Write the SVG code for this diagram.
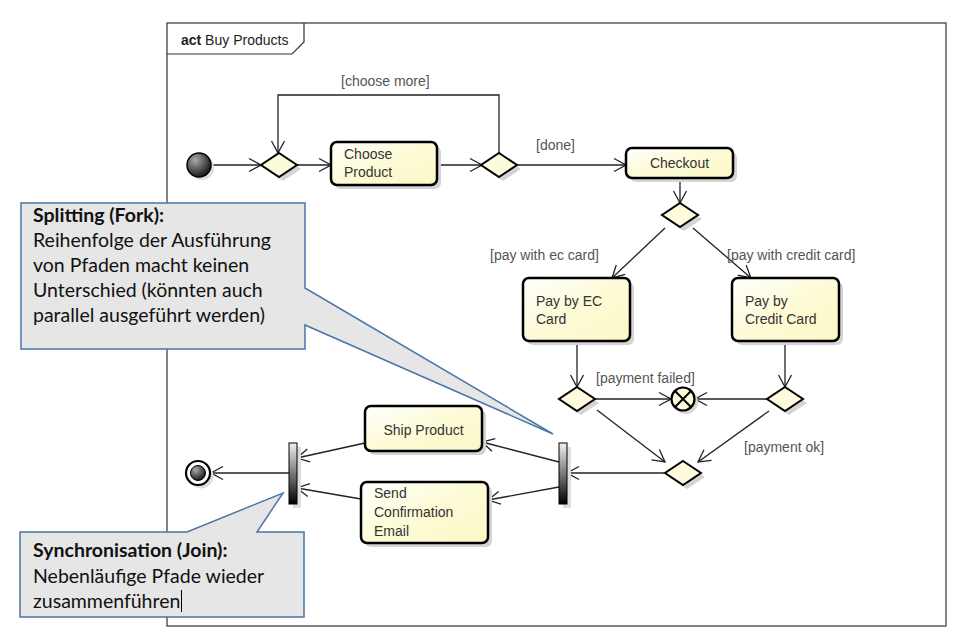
<svg xmlns="http://www.w3.org/2000/svg" width="971" height="643" viewBox="0 0 971 643">
<style>
.lbl{font-family:"Liberation Sans",Arial,sans-serif;font-size:14px;fill:#555}
.txt{font-family:"Liberation Sans",Arial,sans-serif;font-size:14px;fill:#333}
.act{fill:url(#actGrad);stroke:#000;stroke-width:2.5}
.shd{fill:#d4d4d4}
.dia{fill:#fdfbdc;stroke:#000;stroke-width:2}
.con line,.con polyline{stroke:#222;stroke-width:1.3;fill:none;marker-end:url(#arr)}
.note{fill:#e6e6e6;stroke:#4a76a8;stroke-width:1.5}
.nt{font-family:Lato,"Liberation Sans",sans-serif;font-size:19.5px;fill:#111}
.nb{font-weight:bold}
</style>
<defs>
<linearGradient id="actGrad" x1="0" y1="0" x2="1" y2="1">
<stop offset="0" stop-color="#ffffff"/>
<stop offset="0.5" stop-color="#fdfbd6"/>
<stop offset="1" stop-color="#fbf8c6"/>
</linearGradient>
<linearGradient id="barGrad" x1="0" y1="0" x2="0" y2="1">
<stop offset="0" stop-color="#f2f2f2"/>
<stop offset="1" stop-color="#000"/>
</linearGradient>
<radialGradient id="ballGrad" cx="0.35" cy="0.3" r="0.75">
<stop offset="0" stop-color="#aaa"/>
<stop offset="1" stop-color="#111"/>
</radialGradient>
<marker id="arr" viewBox="-13 -8 14 16" refX="0" refY="0" markerWidth="14" markerHeight="16" markerUnits="userSpaceOnUse" orient="auto">
<path d="M-12,-6.5 L0,0 L-12,6.5" fill="none" stroke="#222" stroke-width="1.3"/>
</marker>
</defs>
<rect width="971" height="643" fill="#fff"/>

<g id="frame">
<rect x="167" y="23" width="779" height="603" fill="none" stroke="#333" stroke-width="1.2"/>
<path d="M167,54 H292 L304,42 V23" fill="none" stroke="#333" stroke-width="1.2"/>
<text x="181" y="45" style="font-family:'Liberation Sans',Arial,sans-serif;font-size:14px;fill:#222"><tspan font-weight="bold">act</tspan> Buy Products</text>
</g>

<g id="connectors" class="con">
<line x1="211" y1="165" x2="261" y2="165"/>
<line x1="297" y1="165" x2="331" y2="165"/>
<line x1="437" y1="165" x2="482" y2="165"/>
<polyline points="499,153 499,95 278,95 278,153"/>
<line x1="517" y1="165" x2="626" y2="165"/>
<line x1="680" y1="178" x2="680" y2="203"/>
<line x1="665" y1="228" x2="612" y2="278"/>
<line x1="693" y1="228" x2="751" y2="278"/>
<line x1="577" y1="341" x2="577" y2="387"/>
<line x1="785" y1="341" x2="785" y2="387"/>
<line x1="595" y1="399" x2="671" y2="399"/>
<line x1="767" y1="399" x2="695" y2="399"/>
<line x1="597" y1="410" x2="665" y2="462"/>
<line x1="769" y1="411" x2="698" y2="462"/>
<line x1="664" y1="473" x2="567" y2="473"/>
<line x1="559" y1="462" x2="482" y2="442"/>
<line x1="559" y1="487" x2="488" y2="500"/>
<line x1="365" y1="443" x2="297" y2="458"/>
<line x1="361" y1="499" x2="297" y2="488"/>
<line x1="289" y1="473" x2="211" y2="473"/>
</g>

<g id="guards">
<text class="lbl" x="341" y="86">[choose more]</text>
<text class="lbl" x="536" y="150">[done]</text>
<text class="lbl" x="490" y="260">[pay with ec card]</text>
<text class="lbl" x="727" y="260">[pay with credit card]</text>
<text class="lbl" x="596" y="383">[payment failed]</text>
<text class="lbl" x="744" y="452">[payment ok]</text>
</g>

<g id="initial">
<circle cx="202" cy="168" r="12" fill="#ddd"/>
<circle cx="199" cy="165" r="12" fill="url(#ballGrad)" stroke="#000" stroke-width="1.5"/>
</g>

<g id="merge1">
<path class="shd" d="M283,157 L301,169 L283,181 L265,169 Z"/>
<path class="dia" d="M279,153 L297,165 L279,177 L261,165 Z"/>
</g>

<g id="chooseProduct">
<rect class="shd" x="335" y="146" width="106" height="43" rx="6"/>
<rect class="act" x="331" y="142" width="106" height="43" rx="6"/>
<text class="txt" x="344" y="159">Choose</text>
<text class="txt" x="344" y="177">Product</text>
</g>

<g id="decision2">
<path class="shd" d="M503,157 L521,169 L503,181 L485,169 Z"/>
<path class="dia" d="M499,153 L517,165 L499,177 L481,165 Z"/>
</g>

<g id="checkout">
<rect class="shd" x="630" y="152" width="107" height="30" rx="6"/>
<rect class="act" x="626" y="148" width="107" height="30" rx="6"/>
<text class="txt" x="679.5" y="168" text-anchor="middle">Checkout</text>
</g>

<g id="decision3">
<path class="shd" d="M684,207 L702,219 L684,231 L666,219 Z"/>
<path class="dia" d="M680,203 L698,215 L680,227 L662,215 Z"/>
</g>

<g id="payEC">
<rect class="shd" x="527" y="282" width="107" height="63" rx="6"/>
<rect class="act" x="523" y="278" width="107" height="63" rx="6"/>
<text class="txt" x="536" y="306">Pay by EC</text>
<text class="txt" x="536" y="324">Card</text>
</g>

<g id="payCredit">
<rect class="shd" x="736" y="282" width="107" height="63" rx="6"/>
<rect class="act" x="732" y="278" width="107" height="63" rx="6"/>
<text class="txt" x="745" y="306">Pay by</text>
<text class="txt" x="745" y="324">Credit Card</text>
</g>

<g id="decision4">
<path class="shd" d="M581,391 L599,403 L581,415 L563,403 Z"/>
<path class="dia" d="M577,387 L595,399 L577,411 L559,399 Z"/>
</g>

<g id="decision5">
<path class="shd" d="M789,391 L807,403 L789,415 L771,403 Z"/>
<path class="dia" d="M785,387 L803,399 L785,411 L767,399 Z"/>
</g>

<g id="flowFinal">
<circle cx="686" cy="402" r="12" fill="#d8d8d8"/>
<circle cx="683" cy="399" r="11.5" fill="#fdfbdc" stroke="#000" stroke-width="2.2"/>
<path d="M675,391 L691,407 M691,391 L675,407" stroke="#000" stroke-width="2"/>
</g>

<g id="merge2">
<path class="shd" d="M687,465 L705,477 L687,489 L669,477 Z"/>
<path class="dia" d="M683,461 L701,473 L683,485 L665,473 Z"/>
</g>

<g id="fork">
<rect x="563" y="447" width="8" height="61" fill="#ddd"/>
<rect x="559" y="443" width="8" height="61" fill="url(#barGrad)" stroke="#000" stroke-width="1"/>
</g>

<g id="shipProduct">
<rect class="shd" x="369" y="410" width="117" height="45" rx="6"/>
<rect class="act" x="365" y="406" width="117" height="45" rx="6"/>
<text class="txt" x="423.5" y="435" text-anchor="middle">Ship Product</text>
</g>

<g id="sendEmail">
<rect class="shd" x="365" y="486" width="127" height="61" rx="6"/>
<rect class="act" x="361" y="482" width="127" height="61" rx="6"/>
<text class="txt" x="374" y="498">Send</text>
<text class="txt" x="374" y="517">Confirmation</text>
<text class="txt" x="374" y="536">Email</text>
</g>

<g id="join">
<rect x="293" y="447" width="8" height="61" fill="#ddd"/>
<rect x="289" y="443" width="8" height="61" fill="url(#barGrad)" stroke="#000" stroke-width="1"/>
</g>

<g id="final">
<circle cx="201" cy="476" r="12.5" fill="#ddd"/>
<circle cx="198" cy="473" r="12" fill="#fff" stroke="#000" stroke-width="2.2"/>
<circle cx="198" cy="473" r="7.5" fill="url(#ballGrad)" stroke="#000" stroke-width="1"/>
</g>

<g id="noteFork">
<path class="note" d="M21,203 H305 V288 L553,434 L305,325 V349 H21 Z"/>
<text class="nt nb" x="33" y="222">Splitting (Fork):</text>
<text class="nt" x="33" y="247">Reihenfolge der Ausführung</text>
<text class="nt" x="33" y="272">von Pfaden macht keinen</text>
<text class="nt" x="33" y="297">Unterschied (könnten auch</text>
<text class="nt" x="33" y="322">parallel ausgeführt werden)</text>
</g>

<g id="noteJoin">
<path class="note" d="M20,532 H187 L283,493 L257,532 H304 V617 H20 Z"/>
<text class="nt nb" x="33" y="557">Synchronisation (Join):</text>
<text class="nt" x="33" y="583">Nebenläufige Pfade wieder</text>
<text class="nt" x="33" y="608">zusammenführen</text>
<line x1="181.5" y1="590" x2="181.5" y2="612" stroke="#000" stroke-width="1"/>
</g>
</svg>
